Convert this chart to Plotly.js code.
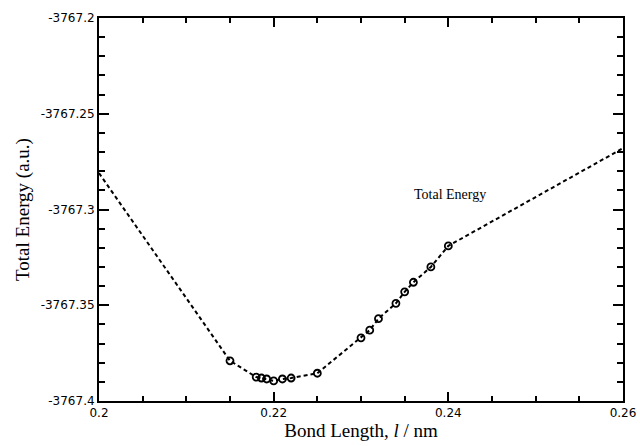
<!DOCTYPE html>
<html>
<head>
<meta charset="utf-8">
<script src="https://cdn.plot.ly/plotly-3.0.1.min.js"></script>
<style>html,body{margin:0;padding:0;background:#fff;}#chart{width:640px;height:446px;}</style>
</head>
<body>
<div id="chart"></div>
<script>
// Bond length (nm) and total energy (a.u.)
const bondLength = [0.2, 0.215, 0.218, 0.2186, 0.2192, 0.22, 0.221, 0.222, 0.225, 0.23, 0.231, 0.232, 0.234, 0.235, 0.236, 0.238, 0.24, 0.26];
const totalEnergy = [-3767.281, -3767.379, -3767.3875, -3767.388, -3767.3885, -3767.3895, -3767.3885, -3767.388, -3767.3855, -3767.367, -3767.363, -3767.357, -3767.349, -3767.343, -3767.338, -3767.330, -3767.319, -3767.268];

const xTickVals = [0.2, 0.22, 0.24, 0.26];
const xTickText = ["0.2", "0.22", "0.24", "0.26"];
const yTickVals = [-3767.4, -3767.35, -3767.3, -3767.25, -3767.2];
const yTickText = ["-3767.4", "-3767.35", "-3767.3", "-3767.25", "-3767.2"];

const seriesLabel = "Total Energy";

const traces = [
  {
    x: bondLength, y: totalEnergy, type: 'scatter', mode: 'lines',
    line: {color: '#000', width: 2, dash: '4px,3px'},
    hoverinfo: 'skip', showlegend: false
  },
  {
    x: bondLength.slice(1, -1), y: totalEnergy.slice(1, -1), type: 'scatter', mode: 'markers',
    marker: {symbol: 'circle-open', size: 7, color: '#000', line: {width: 1.8, color: '#000'}},
    showlegend: false
  }
];

const tickFont = {family: 'DejaVu Sans, sans-serif', size: 12, color: '#000'};
const titleFont = {family: 'Liberation Serif, Times New Roman, serif', size: 19, color: '#000'};

const layout = {
  width: 640, height: 446,
  margin: {l: 99, r: 17, t: 18, b: 45},
  paper_bgcolor: '#fff', plot_bgcolor: '#fff',
  showlegend: false,
  xaxis: {
    range: [0.2, 0.26], tickvals: xTickVals, ticktext: xTickText,
    ticks: 'inside', ticklen: 9, tickwidth: 2, tickcolor: '#000',
    minor: {dtick: 0.005, ticks: 'inside', ticklen: 5, tickwidth: 2, tickcolor: '#000', showgrid: false},
    showline: true, linecolor: '#000', linewidth: 2, mirror: 'ticks',
    showgrid: false, zeroline: false, tickfont: tickFont,
    title: {text: 'Bond Length, <i>l</i> / nm', font: titleFont, standoff: 4}
  },
  yaxis: {
    range: [-3767.4, -3767.2], tickvals: yTickVals, ticktext: yTickText,
    ticks: 'inside', ticklen: 10, tickwidth: 2, tickcolor: '#000',
    minor: {dtick: 0.01, ticks: 'inside', ticklen: 6, tickwidth: 2, tickcolor: '#000', showgrid: false},
    showline: true, linecolor: '#000', linewidth: 2, mirror: 'ticks',
    showgrid: false, zeroline: false, tickfont: tickFont,
    title: {text: 'Total Energy (a.u.)', font: titleFont, standoff: 6}
  },
  annotations: [{
    x: 0.2402, y: -3767.292, xref: 'x', yref: 'y', text: seriesLabel, showarrow: false,
    font: {family: 'Liberation Serif, Times New Roman, serif', size: 14, color: '#000'}
  }]
};

Plotly.newPlot('chart', traces, layout, {displayModeBar: false, staticPlot: true});
</script>
</body>
</html>
